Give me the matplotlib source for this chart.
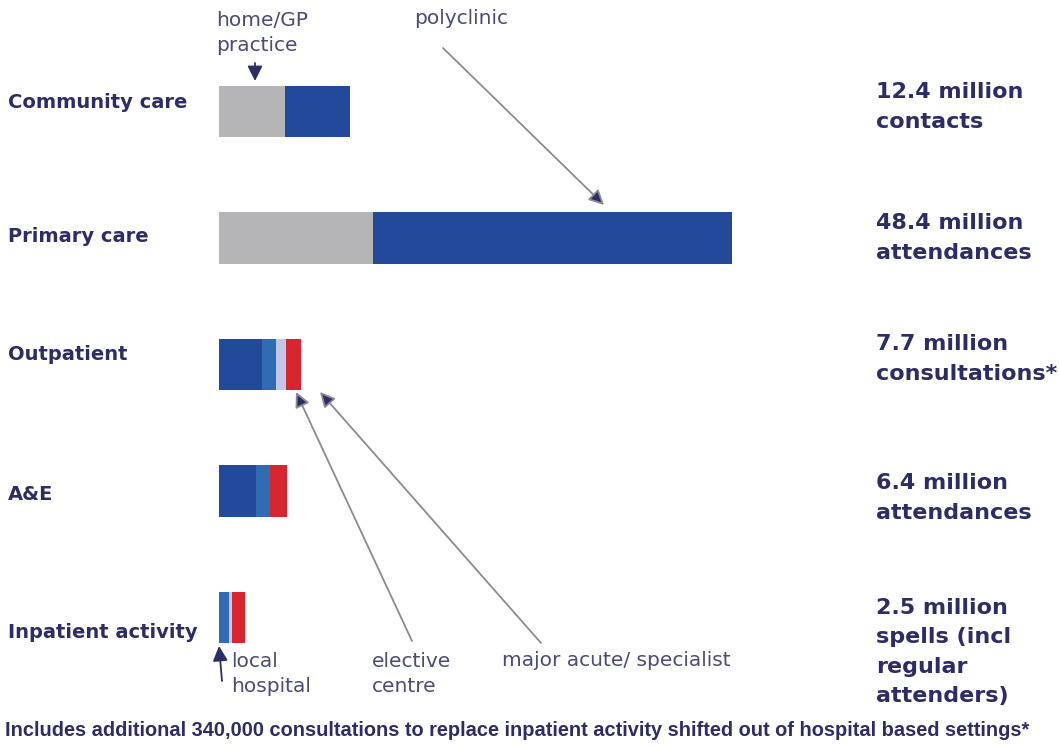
import matplotlib
matplotlib.use("Agg")
import matplotlib.pyplot as plt
from matplotlib.patches import FancyArrowPatch

W, H = 1059, 749

settings = ["Community care", "Primary care", "Outpatient", "A&E", "Inpatient activity"]
segment_names = ["home/GP practice", "polyclinic", "local hospital", "elective centre",
                 "major acute/ specialist"]
# activity in millions, by setting of care
home_gp = [6.2, 14.5, 0.0, 0.0, 0.0]
polyclinic = [6.2, 33.9, 4.1, 3.5, 0.0]
local_hospital = [0.0, 0.0, 1.25, 1.35, 0.9]
elective_centre = [0.0, 0.0, 1.0, 0.0, 0.35]
major_acute = [0.0, 0.0, 1.35, 1.55, 1.25]
totals = ["12.4 million\ncontacts",
          "48.4 million\nattendances",
          "7.7 million\nconsultations*",
          "6.4 million\nattendances",
          "2.5 million\nspells (incl\nregular\nattenders)"]
footnote = ("Includes additional 340,000 consultations to replace inpatient activity "
            "shifted out of hospital based settings*")

colors = ["#b5b5b7", "#22499a", "#2f6cb3", "#c3c6e6", "#d7262f"]
navy = "#2c2d66"
label_col = "#4b4b78"
arrow_col = "#8a8a92"

plt.rcParams["font.family"] = ["DejaVu Sans"]

fig = plt.figure(figsize=(W / 100, H / 100), dpi=100)


def fx(x):
    return x / W


def fy(y):
    return 1 - y / H


# axes: x in millions, one row per setting
ax = fig.add_axes([fx(219), fy(680.75), fx(732) - fx(219), (680.75 - 48.25) / H])
ax.set_xlim(0, 48.4)
ax.set_ylim(len(settings) - 0.5, -0.5)
ax.axis("off")

series = [home_gp, polyclinic, local_hospital, elective_centre, major_acute]
left = [0.0] * len(settings)
for vals, col, name in zip(series, colors, segment_names):
    ax.barh(range(len(settings)), vals, left=left, height=0.41, color=col,
            edgecolor="none", label=name)
    left = [l + v for l, v in zip(left, vals)]

# setting names on the left
label_y = [103, 236, 355, 495, 632]
for name, y in zip(settings, label_y):
    fig.text(fx(8), fy(y), name, fontsize=14, fontweight="bold", color=navy,
             ha="left", va="center")

# totals on the right
for txt, y in zip(totals, [107, 238, 359, 498, 652]):
    fig.text(fx(876), fy(y), txt, fontsize=16, fontweight="bold", color=navy,
             ha="left", va="center", linespacing=1.6)

# segment annotations
txt_kw = dict(fontsize=14.5, color=label_col, ha="left", va="center")
fig.text(fx(216), fy(33), "home/GP\npractice", linespacing=1.35, **txt_kw)
fig.text(fx(414), fy(18), "polyclinic", **txt_kw)
fig.text(fx(231), fy(674), "local\nhospital", linespacing=1.45, **txt_kw)
fig.text(fx(372), fy(674), "elective\ncentre", linespacing=1.45, **txt_kw)
fig.text(fx(502), fy(660), "major acute/ specialist", **txt_kw)


def pointer(tip, tail, line_col=arrow_col):
    arr = FancyArrowPatch((fx(tail[0]), fy(tail[1])), (fx(tip[0]), fy(tip[1])),
                          transform=fig.transFigure,
                          arrowstyle="-|>,head_length=9,head_width=4.5",
                          color=line_col, lw=1.3, shrinkA=0, shrinkB=0)
    arr.set_facecolor(navy)
    arr.set_edgecolor(line_col)
    fig.add_artist(arr)
    return arr


pointer((255, 81), (255, 63), navy)
pointer((604, 205), (443, 48))
pointer((296, 392), (412, 641))
pointer((320, 392), (541, 643))
pointer((219, 646), (222, 681), navy)

fig.text(fx(5), fy(730), footnote, fontsize=14.4, fontweight="bold", color=navy,
         ha="left", va="center", family=["Liberation Sans", "DejaVu Sans"])

fig.savefig("out.png", dpi=100, facecolor="white")
